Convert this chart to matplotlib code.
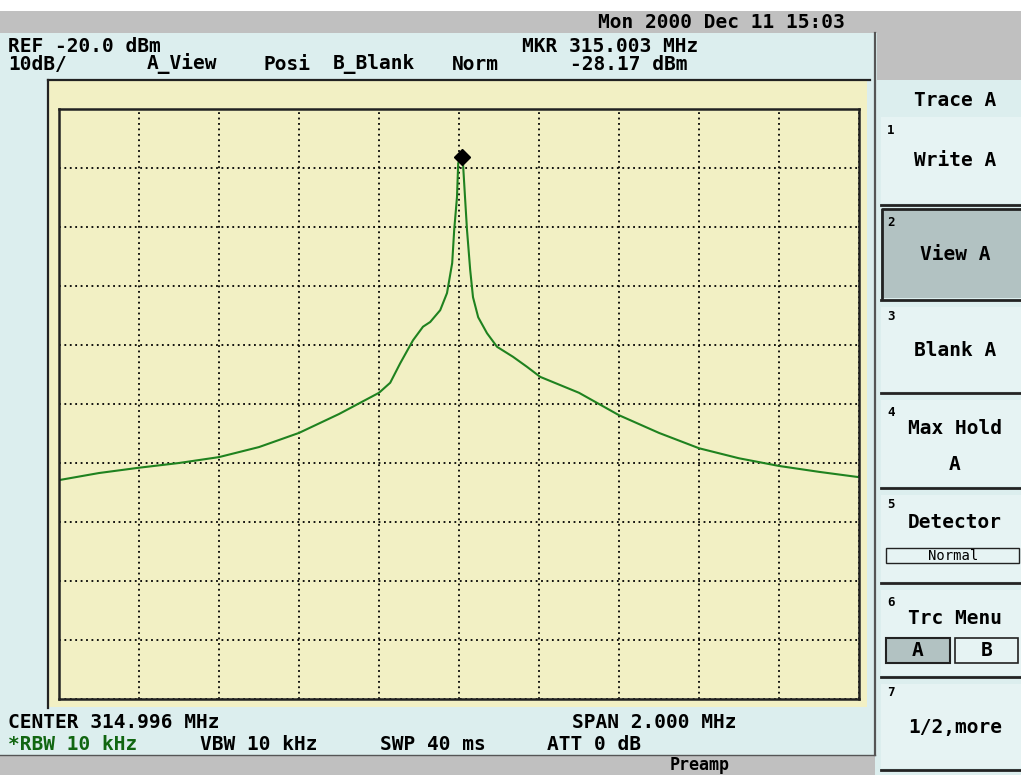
import numpy as np
import matplotlib
matplotlib.use("Agg")
import matplotlib.pyplot as plt
from matplotlib.patches import Rectangle

# analyzer settings
ref_level = -20.0      # dBm, top of screen
db_per_div = 10
center_mhz = 314.996
span_mhz = 2.000
marker_freq = 315.003
marker_level = -28.17

freq_mhz = [313.996, 314.096, 314.196, 314.296, 314.396, 314.496, 314.596, 314.696,
            314.796, 314.824, 314.849, 314.881, 314.906, 314.924, 314.949, 314.966,
            314.979, 314.984, 314.991, 314.994, 315.000, 315.006, 315.011, 315.016,
            315.024, 315.031, 315.044, 315.066, 315.091, 315.131, 315.166, 315.199,
            315.296, 315.396, 315.496, 315.596, 315.696, 315.796, 315.896, 315.996]
level_dbm = [-82.9, -81.7, -80.8, -80.0, -79.0, -77.3, -74.9, -71.7,
             -68.1, -66.4, -63.1, -59.2, -56.9, -56.1, -54.1, -51.2,
             -46.1, -40.5, -34.9, -29.2, -28.2, -29.2, -34.9, -40.5,
             -47.3, -51.9, -55.3, -58.0, -60.3, -62.0, -63.7, -65.4,
             -68.1, -71.9, -74.9, -77.5, -79.2, -80.5, -81.5, -82.4]

date_text = "Mon 2000 Dec 11 15:03"
status_words = ["A_View", "Posi", "B_Blank", "Norm"]
rbw_text = "*RBW 10 kHz"
vbw_text = "VBW 10 kHz"
swp_text = "SWP 40 ms"
att_text = "ATT 0 dB"
menu_title = "Trace A"
menu_labels = ["Write A", "View A", "Blank A", "Max Hold", "Detector", "Trc Menu", "1/2,more"]

BLUE = "#dceeee"
BTN = "#e6f3f3"
YEL = "#f2f0c4"
GRAY = "#c0c0c0"
SEL = "#b2c2c2"
GREEN = "#1f821f"
DARK = "#222222"
MONO = "DejaVu Sans Mono"

fig = plt.figure(figsize=(10.21, 7.75), dpi=100)
bg = fig.add_axes([0, 0, 1, 1])
bg.set_xlim(0, 1021)
bg.set_ylim(775, 0)
bg.axis("off")

def rect(x0, y0, x1, y1, color, **kw):
    bg.add_patch(Rectangle((x0, y0), x1 - x0, y1 - y0, facecolor=color, edgecolor="none", **kw))

def txt(x, y, s, size=14, ha="left", va="center", color="black", weight="bold"):
    bg.text(x, y, s, fontsize=size, ha=ha, va=va, color=color, family=MONO, weight=weight)

# background blocks
rect(0, 0, 1021, 775, BLUE)
rect(0, 0, 1021, 11, "white")
rect(0, 11, 1021, 33, GRAY)
rect(877, 33, 1021, 80, GRAY)
rect(0, 755, 875, 775, GRAY)
rect(48, 81, 867, 707, YEL)
bg.plot([48, 870], [80, 80], color=DARK, lw=1.6)
bg.plot([48, 48], [80, 708], color=DARK, lw=1.6)
bg.plot([875, 875], [33, 755], color="#555555", lw=1.6)
bg.plot([0, 875], [755, 755], color="#555555", lw=1.0)

# header / footer text
txt(598, 22, date_text)
txt(8, 47, f"REF {ref_level:.1f} dBm")
txt(522, 47, f"MKR {marker_freq:.3f} MHz")
txt(8, 64, f"{db_per_div}dB/")
for word, x in zip(status_words, [147, 263, 333, 452]):
    txt(x, 64, word)
txt(570, 64, f"{marker_level:.2f} dBm")
txt(8, 722, f"CENTER {center_mhz:.3f} MHz")
txt(572, 722, f"SPAN {span_mhz:.3f} MHz")
txt(8, 745, rbw_text, color="#116611")
txt(200, 745, vbw_text)
txt(380, 745, swp_text)
txt(547, 745, att_text)
txt(700, 765, "Preamp", size=12, ha="center")

# softkey menu
txt(955, 100, menu_title, ha="center")
btn_rows = [(117, 203), (209, 298), (307, 391), (400, 486), (495, 581), (590, 675), (684, 768)]
num_y = [130, 223, 317, 412, 505, 602, 693]
label_y = [160, 255, 350, 428, 522, 618, 728]
for i, ((y0, y1), label) in enumerate(zip(btn_rows, menu_labels)):
    if i == 1:
        rect(881, y0, 1021, y1, SEL)
        bg.plot([882, 882, 1021], [y1, y0, y0], color=DARK, lw=2)
    else:
        rect(881, y0, 1021, y1, BTN)
    bg.plot([881, 1021], [y1 + 2, y1 + 2], color=DARK, lw=2)
    txt(887, num_y[i], str(i + 1), size=9)
    txt(955, label_y[i], label, ha="center")
txt(955, 464, "A", ha="center")

# detector sub-box
bg.add_patch(Rectangle((886, 548), 133, 15, facecolor=BTN, edgecolor=DARK, lw=1))
txt(953, 556, "Normal", size=10, ha="center", weight="normal")
# trace A/B select
bg.add_patch(Rectangle((886, 638), 64, 25, facecolor=SEL, edgecolor=DARK, lw=1.5))
bg.add_patch(Rectangle((955, 638), 63, 25, facecolor=BTN, edgecolor=DARK, lw=1.2))
txt(918, 651, "A", ha="center")
txt(987, 651, "B", ha="center")

# graticule and trace
ax = fig.add_axes([59 / 1021, (775 - 699) / 775, 800 / 1021, 590 / 775])
ax.set_facecolor(YEL)
f0 = center_mhz - span_mhz / 2
f1 = center_mhz + span_mhz / 2
bottom = ref_level - 10 * db_per_div
ax.set_xlim(f0, f1)
ax.set_ylim(bottom, ref_level)
ax.set_xticks(np.linspace(f0, f1, 11))
ax.set_yticks(np.linspace(bottom, ref_level, 11))
ax.tick_params(length=0, labelbottom=False, labelleft=False)
ax.grid(True, color="black", linestyle=(0, (1, 2)), lw=1.3)
for sp in ax.spines.values():
    sp.set_color(DARK)
    sp.set_linewidth(1.8)

ax.plot(freq_mhz, level_dbm, color=GREEN, lw=1.5)
ax.plot([marker_freq], [marker_level], marker="D", color="black", ms=8, clip_on=False)

fig.savefig("out.png", dpi=100)
